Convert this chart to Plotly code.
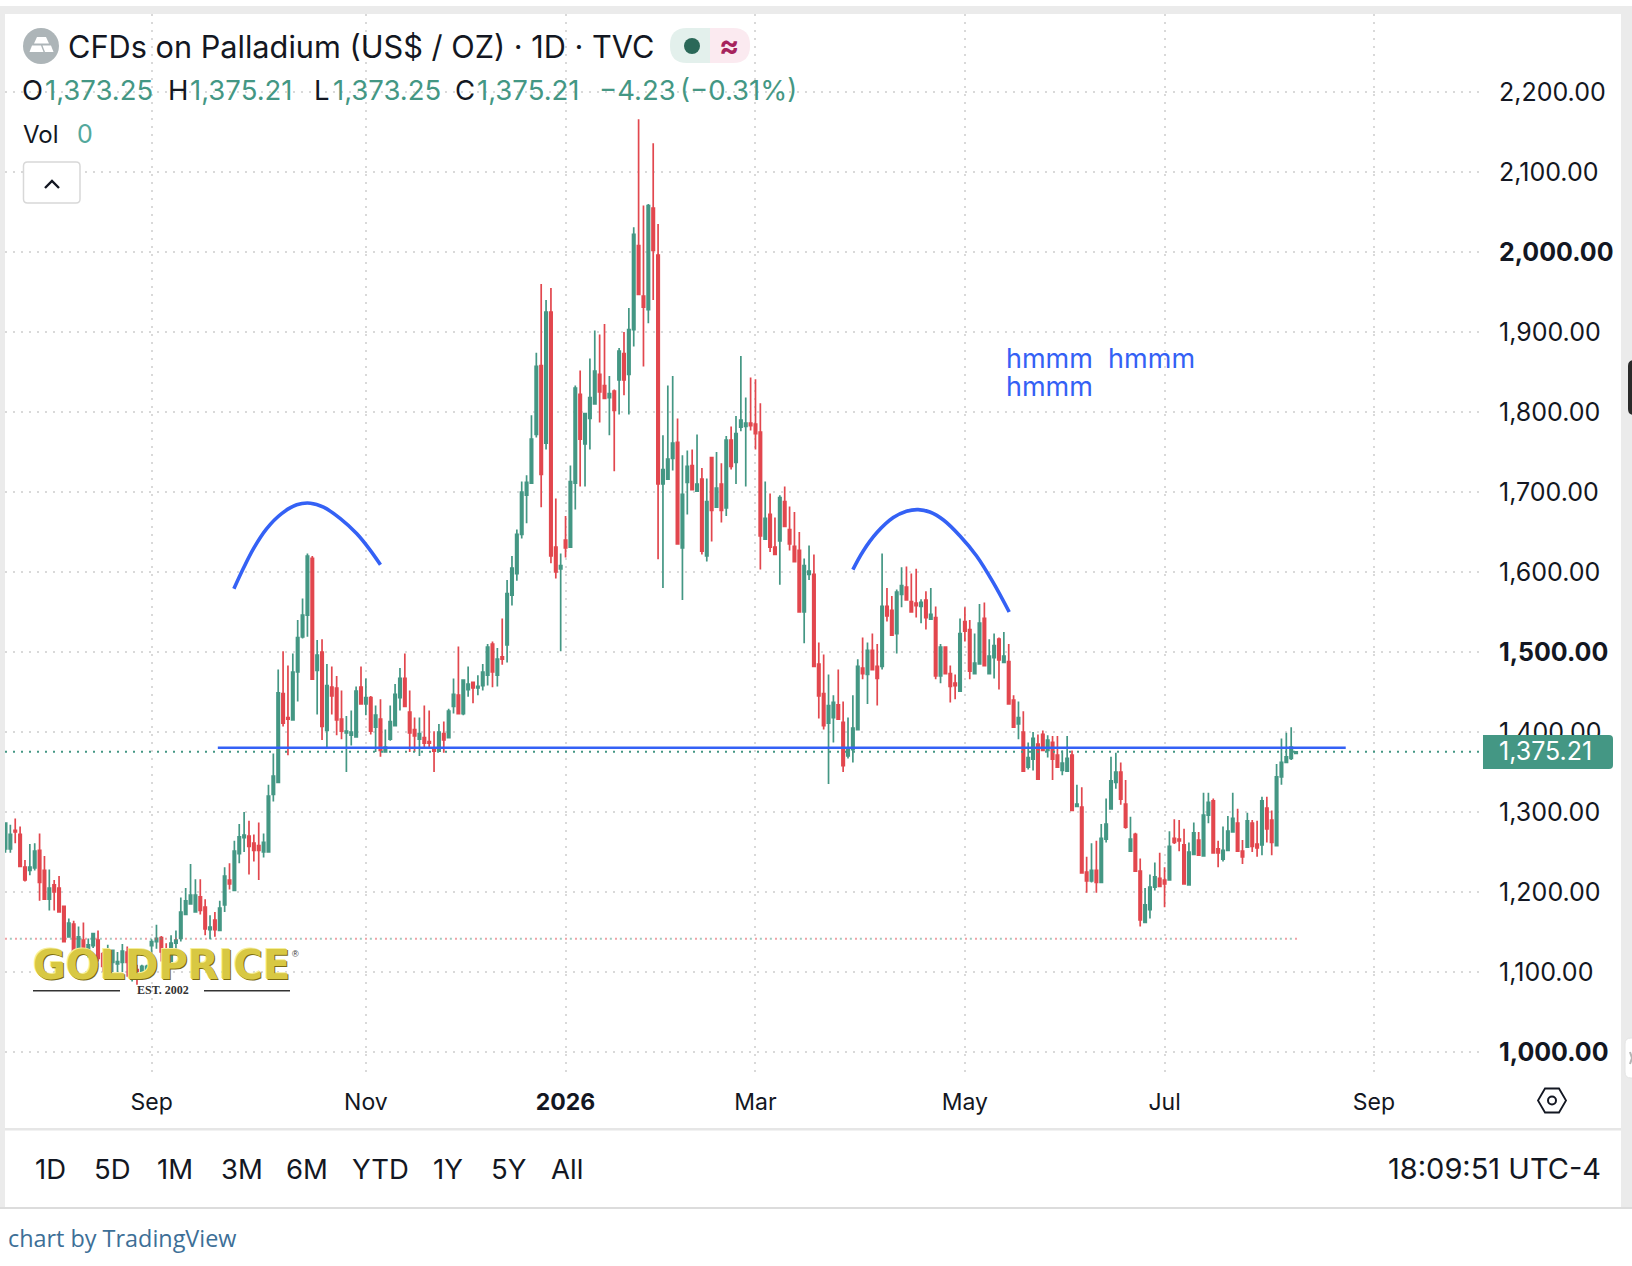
import plotly.graph_objects as go

FIG_W = 1632
FIG_H = 1266
PLOT_LEFT = 5
PLOT_RIGHT = 1480
PLOT_TOP = 14
PLOT_BOTTOM = 1075

GREEN = '#449784'
RED = '#e2474e'
BLUE = '#3461f5'
INK = '#131722'
UI_FONT = 'Inter'

# one candle per trading day
opens = [
	1254,1254,1277,1272,1231,1227,1230,1252,1227,1191,
	1209,1205,1182,1144,1160,1125,1140,1125,1133,1140,
	1123,1112,1112,1110,1112,1125,1092,1103,1099,1099,
	1133,1138,1143,1115,1109,1136,1142,1172,1185,1175,
	1194,1181,1153,1165,1152,1184,1215,1202,1248,1268,
	1270,1261,1258,1250,1250,1322,1337,1448,1418,1415,
	1475,1519,1546,1617,1477,1500,1402,1456,1455,1416,
	1399,1396,1394,1456,1435,1443,1406,1416,1375,1391,
	1408,1443,1467,1425,1403,1391,1393,1388,1380,1376,
	1398,1393,1432,1446,1423,1453,1462,1455,1458,1471,
	1510,1471,1494,1509,1571,1598,1647,1696,1711,1772,
	1858,1761,1925,1631,1604,1640,1631,1711,1822,1760,
	1792,1810,1847,1833,1818,1826,1840,1873,1847,1903,
	2008,1945,1928,2055,1996,1710,1716,1742,1762,1630,
	1712,1733,1701,1716,1620,1743,1681,1710,1680,1765,
	1737,1781,1782,1786,1785,1775,1641,1672,1631,1639,
	1688,1653,1632,1627,1550,1597,1597,1485,1448,1411,
	1418,1434,1412,1370,1378,1403,1480,1472,1502,1482,
	1482,1557,1552,1523,1572,1581,1563,1561,1557,1565,
	1541,1543,1470,1506,1473,1461,1451,1538,1528,1473,
	1485,1542,1473,1493,1516,1487,1488,1440,1410,1400,
	1356,1366,1385,1397,1377,1387,1371,1352,1351,1371,
	1307,1306,1225,1214,1227,1212,1266,1304,1337,1350,
	1310,1251,1272,1226,1162,1178,1206,1217,1215,1215,
	1267,1266,1259,1209,1247,1265,1245,1296,1314,1254,
	1241,1252,1275,1286,1251,1256,1286,1260,1259,1305,
	1290,1258,1344,1362,1367,1373.25,
]
highs = [
	1286,1284,1292,1282,1240,1260,1261,1273,1245,1228,
	1215,1220,1182,1167,1164,1157,1162,1142,1148,1152,
	1125,1134,1127,1125,1135,1132,1119,1109,1109,1109,
	1141,1159,1145,1136,1146,1152,1193,1205,1235,1216,
	1216,1191,1171,1175,1189,1231,1236,1264,1285,1300,
	1289,1272,1287,1273,1334,1373,1478,1501,1483,1498,
	1540,1567,1623,1620,1515,1516,1485,1482,1470,1452,
	1420,1427,1457,1482,1467,1445,1433,1441,1403,1433,
	1460,1480,1498,1452,1418,1418,1433,1427,1401,1410,
	1413,1429,1467,1507,1466,1482,1462,1471,1485,1510,
	1513,1505,1542,1590,1620,1653,1713,1721,1796,1874,
	1960,1940,1955,1692,1623,1670,1733,1833,1852,1798,
	1867,1902,1897,1910,1845,1828,1880,1900,1930,2031,
	2166,2058,2060,2136,2035,1771,1833,1845,1792,1746,
	1752,1753,1772,1730,1717,1743,1750,1736,1770,1782,
	1795,1870,1818,1843,1841,1811,1713,1698,1668,1696,
	1707,1682,1675,1650,1617,1633,1622,1512,1497,1472,
	1446,1478,1438,1418,1446,1491,1518,1512,1523,1510,
	1623,1580,1570,1578,1606,1607,1598,1604,1566,1576,
	1580,1557,1510,1506,1483,1472,1542,1556,1540,1523,
	1560,1562,1516,1523,1518,1525,1510,1446,1438,1426,
	1387,1400,1397,1402,1396,1395,1395,1377,1395,1377,
	1334,1331,1244,1261,1264,1285,1317,1369,1374,1362,
	1340,1294,1274,1242,1205,1222,1237,1249,1231,1276,
	1291,1290,1279,1262,1287,1275,1324,1324,1317,1264,
	1282,1295,1324,1304,1265,1299,1290,1289,1319,1319,
	1302,1360,1392,1399,1406,1375.21,
]
lows = [
	1249,1249,1261,1232,1213,1221,1227,1189,1191,1177,
	1177,1175,1137,1144,1123,1121,1127,1118,1130,1113,
	1100,1107,1100,1100,1100,1094,1088,1084,1090,1092,
	1119,1129,1113,1109,1109,1125,1138,1172,1185,1175,
	1172,1146,1141,1144,1152,1175,1203,1202,1236,1250,
	1222,1238,1215,1243,1250,1313,1337,1407,1371,1415,
	1438,1517,1519,1466,1422,1390,1381,1422,1396,1391,
	1350,1383,1394,1435,1421,1397,1375,1369,1374,1389,
	1408,1427,1431,1375,1375,1370,1379,1379,1350,1375,
	1374,1393,1423,1422,1421,1444,1436,1446,1452,1458,
	1456,1457,1484,1487,1558,1589,1642,1661,1711,1768,
	1681,1753,1611,1592,1501,1618,1631,1678,1707,1707,
	1753,1810,1787,1817,1771,1726,1797,1821,1797,1882,
	1947,1857,1911,1940,1616,1580,1716,1727,1635,1565,
	1672,1703,1701,1622,1613,1638,1681,1662,1670,1728,
	1710,1776,1707,1777,1753,1603,1641,1625,1622,1584,
	1657,1627,1613,1550,1511,1590,1482,1417,1403,1335,
	1387,1416,1350,1367,1362,1403,1466,1435,1477,1433,
	1478,1538,1521,1498,1556,1565,1550,1543,1536,1528,
	1541,1466,1461,1472,1437,1441,1451,1513,1466,1473,
	1485,1483,1473,1467,1453,1486,1435,1406,1391,1351,
	1353,1352,1341,1377,1368,1340,1356,1346,1351,1302,
	1307,1224,1199,1212,1199,1212,1262,1304,1329,1309,
	1279,1251,1226,1157,1161,1167,1202,1206,1181,1215,
	1260,1251,1210,1209,1247,1246,1245,1286,1249,1231,
	1238,1252,1275,1251,1235,1256,1250,1244,1246,1262,
	1246,1258,1334,1362,1365,1373.25,
]
closes = [
	1286,1272,1275,1232,1215,1231,1251,1212,1191,1205,
	1200,1175,1138,1161,1125,1144,1127,1134,1148,1117,
	1107,1121,1127,1113,1126,1112,1100,1099,1107,1107,
	1138,1142,1125,1109,1136,1140,1175,1189,1196,1196,
	1177,1154,1156,1153,1180,1220,1210,1251,1269,1271,
	1257,1252,1252,1262,1320,1345,1449,1411,1416,1475,
	1518,1546,1620,1466,1496,1407,1458,1445,1415,1401,
	1401,1400,1451,1435,1443,1401,1421,1377,1381,1413,
	1447,1467,1432,1399,1395,1398,1386,1386,1376,1400,
	1390,1426,1447,1423,1465,1460,1455,1457,1475,1506,
	1475,1491,1491,1573,1605,1647,1700,1712,1766,1857,
	1722,1925,1620,1600,1608,1630,1713,1830,1766,1798,
	1818,1851,1825,1817,1823,1802,1876,1840,1903,2022,
	1947,1931,2058,2002,1710,1728,1741,1761,1635,1697,
	1732,1703,1710,1626,1688,1677,1705,1677,1765,1732,
	1773,1790,1786,1783,1773,1645,1667,1631,1622,1693,
	1657,1635,1613,1550,1608,1601,1482,1445,1408,1433,
	1437,1416,1358,1380,1405,1482,1473,1502,1478,1467,
	1557,1545,1521,1575,1583,1565,1550,1558,1562,1543,
	1547,1470,1506,1473,1457,1458,1523,1526,1476,1486,
	1536,1483,1495,1508,1490,1495,1435,1406,1418,1351,
	1368,1392,1341,1377,1390,1366,1356,1361,1367,1302,
	1310,1224,1214,1227,1212,1267,1285,1339,1350,1316,
	1281,1266,1226,1165,1184,1206,1219,1207,1210,1257,
	1262,1264,1210,1250,1274,1246,1296,1312,1249,1249,
	1252,1276,1292,1251,1244,1289,1257,1255,1314,1279,
	1262,1344,1362,1369,1381,1375.21,
]

month_bars = [30, 74, 115, 154, 197, 238, 281]
month_labels = ['Sep', 'Nov', '<b>2026</b>', 'Mar', 'May', 'Jul', 'Sep']
price_ticks = [1000, 1100, 1200, 1300, 1400, 1500, 1600, 1700, 1800, 1900, 2000, 2100, 2200]
bold_prices = [1000, 1500, 2000]

last_price = 1375.21
support_price = 1380.4
support_bars = [43.6, 275.2]
low_price = 1141.6
low_bars = [-0.1, 265.5]

# hand drawn arcs over the two tops
arc1_bars = [46.9, 48.8, 50.9, 53.6, 56.7, 59.8, 62.6, 65.3, 68.7, 72.1, 74.8, 77.0]
arc1_prices = [1579, 1604, 1629, 1654, 1673, 1684, 1686, 1681, 1667, 1648, 1628, 1609]
arc2_bars = [174.0, 176.1, 178.9, 182.3, 185.0, 187.4, 189.8, 192.6, 196.0, 199.4, 202.8, 206.1]
arc2_prices = [1603, 1626, 1649, 1668, 1676, 1678, 1675, 1665, 1645, 1620, 1587, 1550]

range_buttons = ['1D', '5D', '1M', '3M', '6M', 'YTD', '1Y', '5Y', 'All']
range_button_x = [34, 93, 156, 220, 285, 351, 432, 490, 550]

def _px(x):
	return (x - PLOT_LEFT) / (PLOT_RIGHT - PLOT_LEFT)

def _py(y):
	return (PLOT_BOTTOM - y) / (PLOT_BOTTOM - PLOT_TOP)

def _rect(x0, y0, x1, y1, color):
	return dict(type='rect', xref='paper', yref='paper', x0=_px(x0), x1=_px(x1), y0=_py(y0), y1=_py(y1),
		fillcolor=color, line_width=0, layer='above')

def _circle(x, y, r, fill, line=None):
	return dict(type='circle', xref='paper', yref='paper', x0=_px(x-r), x1=_px(x+r), y0=_py(y-r), y1=_py(y+r),
		fillcolor=fill, line=dict(color=line or fill, width=2 if line else 0), layer='above')

def _path(points, fill=None, line=None, width=2, close=True):
	''' Polygon or polyline given in page pixels. '''
	d = 'M' + ' L'.join(f'{_px(x):.5f},{_py(y):.5f}' for x, y in points) + (' Z' if close else '')
	return dict(type='path', path=d, xref='paper', yref='paper', fillcolor=fill or 'rgba(0,0,0,0)',
		line=dict(color=line or 'rgba(0,0,0,0)', width=width if line else 0), layer='above')

def _round_rect(x0, y0, x1, y1, r_left, r_right, fill, line=None, width=2):
	''' Rounded rectangle in page pixels, corners per side. '''
	def p(x, y):
		return f'{_px(x):.5f},{_py(y):.5f}'
	d = f'M{p(x0+r_left,y0)} L{p(x1-r_right,y0)} Q{p(x1,y0)} {p(x1,y0+r_right)} L{p(x1,y1-r_right)} Q{p(x1,y1)} {p(x1-r_right,y1)}'
	d += f' L{p(x0+r_left,y1)} Q{p(x0,y1)} {p(x0,y1-r_left)} L{p(x0,y0+r_left)} Q{p(x0,y0)} {p(x0+r_left,y0)} Z'
	return dict(type='path', path=d, xref='paper', yref='paper', fillcolor=fill,
		line=dict(color=line or fill, width=width if line else 0), layer='above')

def _label(text, x, y, size, color=INK, anchor='left', family=UI_FONT, **font_extra):
	return dict(text=text, x=_px(x), y=_py(y), xref='paper', yref='paper', xanchor=anchor, yanchor='middle',
		showarrow=False, borderpad=0, font=dict(size=size, color=color, family=family, **font_extra))

bars = list(range(len(closes)))
x_range = [-0.10, 302.77]
y_range = [971.25, 2297.5]

fig = go.Figure()
fig.add_trace(go.Candlestick(
	x=bars, open=opens, high=highs, low=lows, close=closes,
	increasing=dict(line=dict(color=GREEN, width=1.7), fillcolor=GREEN),
	decreasing=dict(line=dict(color=RED, width=1.7), fillcolor=RED),
	whiskerwidth=0, hoverinfo='skip', showlegend=False,
))
fig.add_trace(go.Scatter(x=low_bars, y=[low_price, low_price], mode='lines', hoverinfo='skip', showlegend=False,
	line=dict(color='rgba(226,71,78,0.5)', width=2, dash='2px,8px')))
fig.add_trace(go.Scatter(x=[low_bars[0]+1, low_bars[1]], y=[low_price, low_price], mode='lines', hoverinfo='skip', showlegend=False,
	line=dict(color='rgba(68,151,132,0.5)', width=2, dash='2px,8px')))
fig.add_trace(go.Scatter(x=x_range, y=[last_price, last_price], mode='lines', hoverinfo='skip', showlegend=False,
	line=dict(color=GREEN, width=2, dash='2px,6px')))
fig.add_trace(go.Scatter(x=support_bars, y=[support_price, support_price], mode='lines', hoverinfo='skip', showlegend=False,
	line=dict(color=BLUE, width=2.6)))
for arc_x, arc_y in [(arc1_bars, arc1_prices), (arc2_bars, arc2_prices)]:
	fig.add_trace(go.Scatter(x=arc_x, y=arc_y, mode='lines', hoverinfo='skip', showlegend=False,
		line=dict(color=BLUE, width=3.6, shape='spline', smoothing=1.0)))

price_labels = [f'<b>{p:,.2f}</b>' if p in bold_prices else f'{p:,.2f}' for p in price_ticks]

shapes = [
	# frame around the widget
	_rect(0, 6, FIG_W, 14, '#ebebeb'),
	_rect(0, 6, 5, 1209, '#ebebeb'),
	_rect(1621, 6, FIG_W, 1209, '#ebebeb'),
	_rect(5, 1128, 1621, 1130.5, '#e6e6e6'),
	_rect(0, 1207, FIG_W, 1209, '#dcdcdc'),
	# side tabs
	_round_rect(1628, 360, FIG_W+6, 415, 6, 0, '#2a2a2a'),
	_round_rect(1625, 1038, FIG_W+6, 1078, 6, 0, '#ffffff', '#e4e4e4', 1),
	_path([(1630, 1052), (FIG_W, 1058), (1630, 1064)], None, '#b5b5b5', 2, False),
	# symbol icon with the gold bars
	_circle(41, 46, 18, '#adb5b8'),
	_path([(37, 37), (46, 37), (49, 43.5), (34, 43.5)], '#ffffff'),
	_path([(32, 45.5), (41, 45.5), (43.5, 52), (29.5, 52)], '#ffffff'),
	_path([(42.5, 45.5), (51, 45.5), (53.5, 52), (45, 52)], '#ffffff'),
	# market status pill
	_round_rect(670, 28, 710, 63, 17, 0, '#e3f0ec'),
	_round_rect(710, 28, 750, 63, 0, 17, '#fbeaf0'),
	_circle(692, 46, 8, '#2a6858'),
	# collapse button
	_round_rect(23.5, 162, 80, 203, 4, 4, '#ffffff', '#d8d8d8', 1.5),
	_path([(45, 188), (52, 181), (59, 188)], None, INK, 2.4, False),
	# last price tag
	_round_rect(1483, 735, 1613, 769, 0, 4, GREEN),
	# settings hexagon
	_path([(1538, 1100.5), (1545, 1088.5), (1559, 1088.5), (1566, 1100.5), (1559, 1112.5), (1545, 1112.5)], None, INK, 1.8),
	_circle(1552, 1100.5, 4, 'rgba(0,0,0,0)', INK),
	# rules beside the logo date
	_rect(33, 990, 120, 991.5, '#333333'),
	_rect(204, 990, 290, 991.5, '#333333'),
]
for shape in shapes:
	fig.add_shape(**shape)

ohlc_row = [
	('O', 21, INK), ('1,373.25', 44, GREEN), ('H', 167, INK), ('1,375.21', 189, GREEN),
	('L', 313, INK), ('1,373.25', 332, GREEN), ('C', 454, INK), ('1,375.21', 476, GREEN),
	('−4.23', 598, GREEN), ('(−0.31%)', 679, GREEN),
]
annotations = [
	_label('CFDs on Palladium (US$ / OZ) · 1D · TVC', 67, 46, 30.7),
	_label('≈', 728.5, 45, 30, '#a6235c', 'center', weight='bold'),
	_label('Vol', 22, 134, 24),
	_label('0', 76, 134, 25, '#53a89c'),
	_label('hmmm  hmmm', 1005, 358, 27, BLUE),
	_label('hmmm', 1005, 386, 27, BLUE),
	_label('1,375.21', 1498, 751, 25, '#ffffff'),
	_label('18:09:51 UTC-4', 1387, 1168, 29),
	_label('chart by TradingView', 7, 1238, 23.4, '#3d6f97', family='Open Sans'),
	_label('GOLDPRICE', 161, 965, 40, '#d8c843', 'center', 'DejaVu Sans', weight='bold',
		shadow='1px 1px 0 #7a6a12, -1px -1px 0 #f5ee9a'),
	_label('®', 295, 954, 9, '#333333', 'center', 'Liberation Sans'),
	_label('EST. 2002', 163, 990, 12, '#333333', 'center', 'Liberation Serif', weight='bold'),
]
annotations += [_label(text, x, 90, 27.5, color) for text, x, color in ohlc_row]
annotations += [_label(text, x, 1169, 27.5) for text, x in zip(range_buttons, range_button_x)]

fig.update_layout(
	width=FIG_W,
	height=FIG_H,
	margin=dict(l=PLOT_LEFT, r=FIG_W-PLOT_RIGHT, t=PLOT_TOP, b=FIG_H-PLOT_BOTTOM, pad=0),
	paper_bgcolor='#ffffff',
	plot_bgcolor='#ffffff',
	font=dict(family=UI_FONT, color=INK),
	showlegend=False,
	boxgap=0.3,
	annotations=annotations,
	xaxis=dict(
		range=x_range, rangeslider=dict(visible=False), tickmode='array', tickvals=month_bars, ticktext=month_labels,
		tickfont=dict(size=23, color=INK), ticks='', ticklabelstandoff=11, showline=False, zeroline=False,
		showgrid=True, gridcolor='#d9d9d9', gridwidth=2, griddash='2px,6px',
	),
	yaxis=dict(
		range=y_range, side='right', tickmode='array', tickvals=price_ticks, ticktext=price_labels,
		tickfont=dict(size=25, color=INK), ticks='', ticklabelstandoff=18, showline=False, zeroline=False,
		showgrid=True, gridcolor='#d9d9d9', gridwidth=2, griddash='2px,6px',
	),
)

fig.write_html("out.html", config={'displayModeBar': False}, post_script="document.body.style.margin='0';")
